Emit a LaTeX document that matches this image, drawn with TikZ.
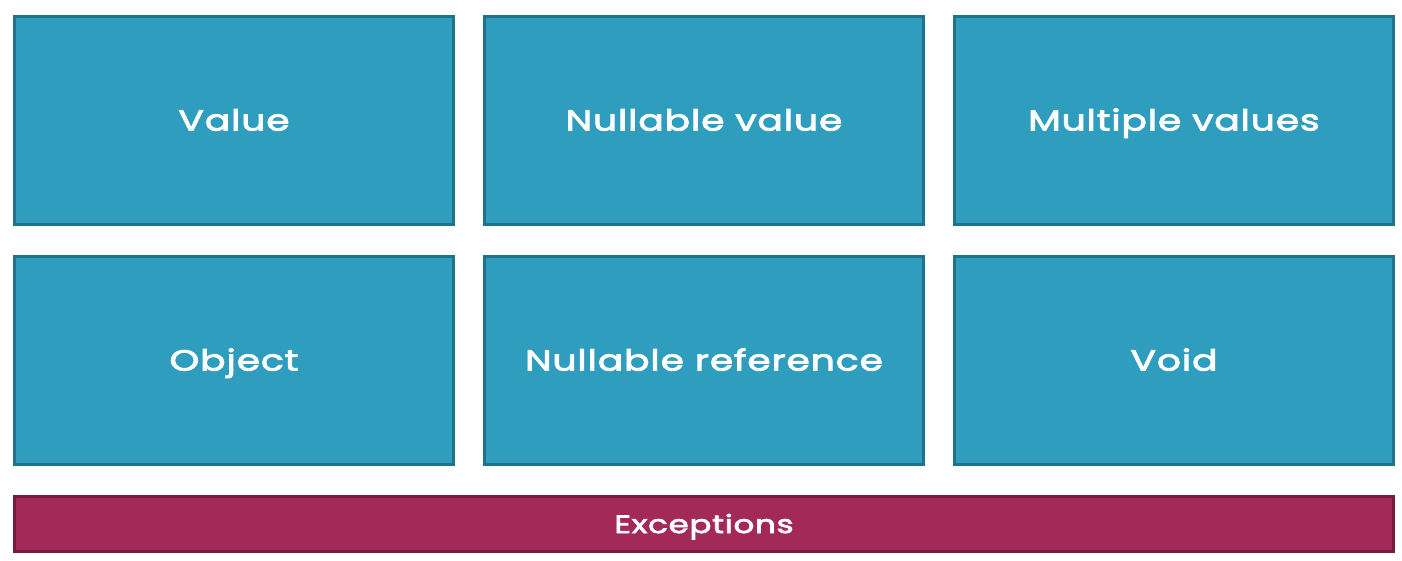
\documentclass[tikz,border=0pt]{standalone}
\usepackage{fontspec}
\usepackage{tikz}
\usetikzlibrary{matrix,positioning}
\newfontfamily\boxfont{Poppins}[FakeBold=3, FakeStretch=1.3, LetterSpace=3]
\definecolor{tealfill}{RGB}{46,157,190}
\definecolor{tealline}{RGB}{30,115,138}
\definecolor{plumfill}{RGB}{163,42,88}
\definecolor{plumline}{RGB}{122,26,64}
\tikzset{
    kind/.style={draw=tealline, fill=tealfill, line width=3pt, outer sep=0pt,
        anchor=center, minimum width=439pt, minimum height=208pt, text=white,
        text height=20pt, text depth=0pt,
        font=\boxfont\fontsize{29}{34}\selectfont},
    fault/.style={draw=plumline, fill=plumfill, line width=3pt, outer sep=0pt,
        minimum width=1379pt, minimum height=55pt, text=white,
        text height=18pt, text depth=0pt,
        font=\boxfont\fontsize{25}{30}\selectfont}
}
\begin{document}
\begin{tikzpicture}
            \useasboundingbox (0pt,0pt) rectangle (1402pt,-560pt);
            \matrix [matrix of nodes, nodes={kind}, column sep=28pt, row sep=29pt,
                inner sep=0pt, outer sep=0pt, anchor=north west] (m) at (13pt,-15pt)
            {
                Value & Nullable value & Multiple values \\
                Object & Nullable reference & Void \\
                };
            \node[fault, below=30.5pt of m] (exc) {Exceptions};
        \end{tikzpicture}
\end{document}
